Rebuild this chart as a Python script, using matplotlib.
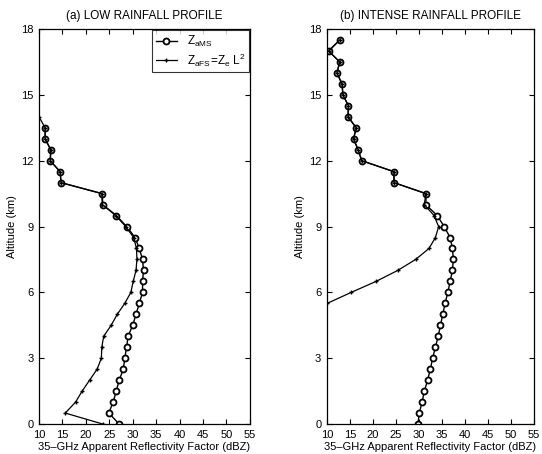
import matplotlib
matplotlib.use('Agg')
import matplotlib.pyplot as plt
import numpy as np

plt.rcParams['font.family'] = ['Liberation Sans', 'DejaVu Sans']
plt.rcParams['mathtext.fontset'] = 'custom'
plt.rcParams['mathtext.rm'] = 'Liberation Sans'
plt.rcParams['mathtext.it'] = 'Liberation Sans'

# (a) low rainfall profile
alt_a_ms = np.arange(0, 14.0, 0.5)
z_a_ms = [27.1, 24.9, 25.8, 26.5, 27.1, 28.0, 28.3, 28.7, 29.0, 30.0,
          30.7, 31.4, 32.1, 32.1, 32.3, 32.1, 31.4, 30.5, 28.7, 26.5,
          23.6, 23.5, 14.7, 14.5, 12.4, 12.5, 11.3, 11.3]
alt_a_fs = np.arange(0, 14.5, 0.5)
z_a_fs = [23.6, 15.6, 17.8, 19.2, 20.8, 22.4, 23.3, 23.4, 23.8, 25.4,
          26.7, 28.3, 29.6, 30.1, 30.7, 30.9, 30.8, 30.2, 28.5, 26.4,
          23.5, 23.4, 14.7, 14.5, 12.4, 12.5, 11.3, 11.3, 10.0]

# (b) intense rainfall profile
alt_b_ms = np.arange(0, 18.0, 0.5)
z_b_ms = [29.8, 30.1, 30.7, 31.2, 31.9, 32.5, 33.0, 33.6, 34.2, 34.7,
          35.2, 35.7, 36.3, 36.8, 37.3, 37.5, 37.3, 36.8, 35.5, 34.0,
          31.5, 31.6, 24.6, 24.6, 17.6, 16.8, 15.8, 16.4, 14.6, 14.7,
          13.5, 13.3, 12.2, 12.8, 10.4, 12.8]
alt_b_fs = np.arange(5.5, 18.0, 0.5)
z_b_fs = [10.1, 15.3, 20.7, 25.4, 29.3, 32.2, 33.6, 34.3, 33.3, 31.2,
          31.5, 24.6, 24.6, 17.6, 16.8, 15.8, 16.4, 14.6, 14.7,
          13.5, 13.3, 12.2, 12.8, 10.4, 12.8]

titles = ['(a) LOW RAINFALL PROFILE', '(b) INTENSE RAINFALL PROFILE']
xticks = [10, 15, 20, 25, 30, 35, 40, 45, 50, 55]
yticks = [0, 3, 6, 9, 12, 15, 18]

fig = plt.figure(figsize=(5.42, 4.54), dpi=100)
ax1 = fig.add_axes([0.072, 0.066, 0.389, 0.870])
ax2 = fig.add_axes([0.603, 0.066, 0.382, 0.870])

data = [(alt_a_ms, z_a_ms, alt_a_fs, z_a_fs), (alt_b_ms, z_b_ms, alt_b_fs, z_b_fs)]
for k, ax in enumerate([ax1, ax2]):
    a_ms, zm, a_fs, zf = data[k]
    ax.plot(zm, a_ms, '-', color='k', lw=1.0, marker='o', ms=4.3,
            mfc='white', mec='k', mew=1.3,
            label=r'$\mathregular{Z_{aMS}}$')
    ax.plot(zf, a_fs, '-', color='k', lw=0.9, marker='+', ms=3.5,
            mew=1.0,
            label=r'$\mathregular{Z_{aFS}\!=\!Z_{e}\ L^{2}}$')
    ax.set_xlim(10, 55)
    ax.set_ylim(0, 18)
    ax.set_xticks(xticks)
    ax.set_yticks(yticks)
    ax.tick_params(direction='in', top=True, right=True, length=3.5,
                   width=0.8, labelsize=8)
    ax.tick_params(axis='x', pad=4)
    ax.tick_params(axis='y', pad=4)
    ax.set_xlabel('35\u2013GHz Apparent Reflectivity Factor (dBZ)', fontsize=8, labelpad=1.5)
    ax.set_ylabel('Altitude (km)', fontsize=8, labelpad=3)
    ax.set_title(titles[k], fontsize=8.5, pad=7)
    for s in ax.spines.values():
        s.set_linewidth(0.9)

leg = ax1.legend(loc='upper right', fontsize=8.5, frameon=True, fancybox=False,
                 edgecolor='k', borderaxespad=0.1, handlelength=1.8,
                 labelspacing=0.2, borderpad=0.3)
leg.get_frame().set_linewidth(0.8)

fig.savefig('out.png', dpi=100)
